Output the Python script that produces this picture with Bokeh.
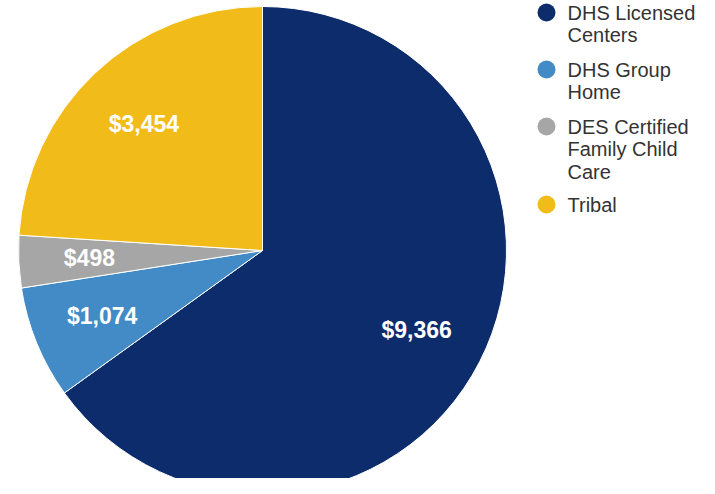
import math
from bokeh.plotting import figure
from bokeh.models import Range1d, ColumnDataSource
from bokeh.core.properties import value
from bokeh.embed import file_html
from bokeh.resources import INLINE

categories = ["DHS Licensed\nCenters", "DHS Group\nHome", "DES Certified\nFamily Child\nCare", "Tribal"]
values = [9366, 1074, 498, 3454]
labels = ["$9,366", "$1,074", "$498", "$3,454"]
colors = ["#0D2C6C", "#428BC6", "#A6A6A6", "#F1BC1A"]

W, H = 699, 478
p = figure(width=W, height=H, output_backend="svg", toolbar_location=None,
           x_range=Range1d(0, W), y_range=Range1d(-H, 0),
           min_border=0, outline_line_color=None)
p.axis.visible = False
p.grid.visible = False
p.background_fill_color = "white"
p.border_fill_color = "white"

cx, cy, R = 262, -250, 244
total = sum(values)
starts, ends, lx, ly = [], [], [], []
a = math.pi / 2
for v in values:
    sweep = 2 * math.pi * v / total
    starts.append(a)
    ends.append(a - sweep)
    mid = a - sweep / 2
    lx.append(cx + 0.71 * R * math.cos(mid))
    ly.append(cy + 0.71 * R * math.sin(mid))
    a -= sweep

src = ColumnDataSource(dict(start=starts, end=ends, color=colors, lx=lx, ly=ly, label=labels))
p.wedge(x=cx, y=cy, radius=R, start_angle="start", end_angle="end", direction="clock",
        fill_color="color", line_color="white", line_width=1, source=src)
p.text(x="lx", y="ly", text="label", source=src, text_color="white",
       text_font=value("Liberation Sans"), text_font_style="bold", text_font_size="23px",
       text_align="center", text_baseline="middle")

# legend
line_h = 21
gap = 15
ys, ty = [], []
y = -12
for c in categories:
    n = c.count("\n") + 1
    ys.append(y)
    ty.append(y + 11)
    y -= n * line_h + gap
lsrc = ColumnDataSource(dict(y=ys, ty=ty, color=colors, text=categories))
p.scatter(x=546, y="y", size=18, marker="circle", fill_color="color", line_color=None, source=lsrc)
p.text(x=567, y="ty", text="text", source=lsrc, text_color="#333333",
       text_font=value("Liberation Sans"), text_font_size="20px",
       text_align="left", text_baseline="top", text_line_height=1.03)

open("out.html", "w").write(file_html(p, INLINE))
